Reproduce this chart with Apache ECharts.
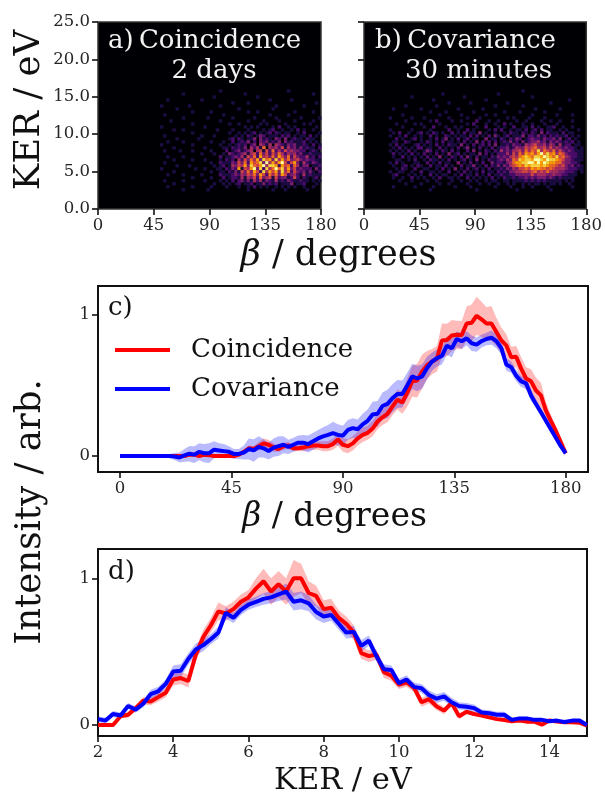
<!DOCTYPE html>
<html>
<head>
<meta charset="utf-8">
<style>html,body{margin:0;padding:0;background:#fff}#main{width:605px;height:794px}</style>
<script src="https://cdn.jsdelivr.net/npm/echarts@6/dist/echarts.min.js"></script>
</head>
<body>
<div id="main"></div>
<script>
// map cells: one digit per cell (0-9), top row is the highest KER
var coincMapRows = [
"0000000000000000000100000000000000000000010000000000",
"0000000100000000000000000001000000000000000000000100",
"0000000000000000010000000000000100000000000000000000",
"0010000000000100000000000000000000010000001000000000",
"0000000000000000000000010000100000000000000000000010",
"1000000001000000000100000000000000000100000000100000",
"0000010000000000000000000100000000001000000000000000",
"0000000000100000100000000000100100000000000100000100",
"0100000000000000000010000000000000010000010000000000",
"0000000100000001000000010000001000000100000001000001",
"0001000000000000000100000000100001000010000100000100",
"0000000000100000000000100100000010100000100000101000",
"1000000000000010000000000001010100001020010100000010",
"0000100100000000001000010000100001012001001020100100",
"0000000000100000000000100101012010120210110010200001",
"0100000000000100010000001010210132011102120101102010",
"0000010000001000000000120210113031210320301211021100",
"0010000100000000100010020121302032312130312111201010",
"1000000000100000000100101212023043140432132311210201",
"0000100000000010000011021213042416043425142313121102",
"0100001000100000100002012312340451526242534332201210",
"0000000000000100010010321234145263525364243423112111",
"0010000100000000000201123241536274536375362532241202",
"0000100000100010000102120425364738673847463453232211",
"0100000000000000100211132536275683947479525731421321",
"0000010001000000010120143547386579488727562641330112",
"1000000000010010001102132715479382846968473523222031",
"0000100000000000100110213153637528475738462532313102",
"0010000100000100000211123243546375264637523421412111",
"0000000000100000100020122141435263451523312520210120",
"0100000100000010000101020231314241321412132112110101",
"0000100000000000010010101201120113121201113011200010",
"0010000000100000100001000100102010100101010100100100",
"0000000100000001000000000000100000001000100000010000"
];
var covMapRows = [
"0000000000000000000000000000000000000000000100000000000000000000",
"0000000000000000010000000000000000010000000000000000000000000000",
"0000000100000000000000001000000000000000000000100000000000000000",
"0000000000000010000000000000000100000000000000000000000000100000",
"0000000000000000000100000010000000000010000000000000100000000000",
"0000010000000001000000000000000000100000000100000000000000000000",
"0100000000100000000000100000001000000000000000010000000100000000",
"0000000000000100001000000001000000000100001000000010000000000000",
"0000100000000000100000010000000100100000000000100000001000010000",
"1000000100010000000100000100010000000010100001000010000000000000",
"0000010000000102000010010000200010010000010010000100100100010000",
"0010000010100000100000000102000100100201000100100010001000000000",
"0000100000010020001001010000100200010100200110201001120010010000",
"1000000100000100000200100201000010202001011020120201100101000100",
"0102001001201021010020102011030100100102110210210302111020110000",
"1001020010100201002101011020201020310120111302213120212112010100",
"0020100120100102013010201201100301102102132012322132231301201000",
"0110021000102101020110102010302020201213120312334231323212120100",
"1020100012010102010211030102012020301121322143453342431412201100",
"0102010102201100201010201301020102012231243354564453534323221010",
"1010102010013201021020100203010210214232445364658465463532321110",
"0201010201020102010301201011030201022242536476757968674653222110",
"0100201010102010301021020310201102132324546787688798768564322110",
"0011001020010211010201012010301021123243658788799879887653321110",
"1020100011002010201100301020102003122134677889979798776643322100",
"0100120102100201102010020113010202131324567687888787665453231210",
"0010210020011001020103010201201020112132435565767665654443222110",
"1001100100200110100200102010102011021213344554564546444332221010",
"0120001010100201011001020110201020112112233333534443343322111000",
"0100100201010010200110100201010102010211212232323332321211110000",
"0001000100001001000010010010100101100110111121212121111101010000",
"0000010000100000100100000100010010010010100101011010110100100000",
"0100000010000010000001000010000000100001000100100001000000010000",
"0000000000000100000000000000100000000000010000000000100000000000"
];
var coincMapStart = 50;   // first beta column of the coincidence rows
var covMapStart = 20;     // first beta column of the covariance rows
var betaBin = 2.5;
var kerBin = 0.4;
var kerBottom = 2.4;

// panel c, every 2 degrees from 0 to 180
var betaCoinc = [0,0,0,0,0,0,0,0,0,0,0,0,0,0,0.01,0.01,0,0.01,0.005,0,0,0,0,0,0.01,0.03,0.055,0.05,0.07,0.09,0.08,0.06,0.05,0.07,0.075,0.055,0.055,0.06,0.07,0.075,0.075,0.07,0.07,0.085,0.118,0.08,0.07,0.09,0.125,0.15,0.165,0.195,0.245,0.275,0.3,0.35,0.4,0.38,0.45,0.53,0.535,0.6,0.645,0.67,0.69,0.82,0.823,0.855,0.86,0.858,0.94,0.945,0.995,0.97,0.94,0.94,0.88,0.82,0.785,0.7,0.705,0.62,0.55,0.53,0.465,0.43,0.323,0.25,0.18,0.1,0.02];
var betaCoincErr = [0,0,0,0,0,0,0,0,0,0,0,0,0,0.003,0.005,0.005,0.005,0.005,0.005,0.005,0.005,0.005,0.005,0.008,0.01,0.015,0.02,0.02,0.03,0.035,0.035,0.03,0.02,0.025,0.025,0.02,0.02,0.025,0.03,0.03,0.03,0.035,0.035,0.04,0.045,0.05,0.05,0.05,0.05,0.05,0.05,0.055,0.055,0.055,0.06,0.06,0.07,0.08,0.1,0.11,0.12,0.12,0.1,0.09,0.09,0.12,0.115,0.11,0.1,0.1,0.12,0.13,0.135,0.125,0.115,0.125,0.1,0.09,0.08,0.075,0.075,0.08,0.08,0.085,0.09,0.09,0.06,0.045,0.03,0.02,0.01];
var betaCov = [0,0,0,0,0,0,0,0,0,0,0,-0.003,-0.01,0.005,0.017,0.01,0.03,0.02,0.02,0.045,0.04,0.035,0.03,0.015,0.015,0.025,0.05,0.04,0.065,0.055,0.035,0.06,0.07,0.08,0.065,0.08,0.095,0.095,0.085,0.105,0.125,0.14,0.15,0.163,0.15,0.145,0.185,0.198,0.19,0.225,0.25,0.295,0.3,0.355,0.37,0.41,0.44,0.44,0.5,0.565,0.55,0.565,0.625,0.67,0.695,0.71,0.783,0.764,0.83,0.814,0.835,0.8,0.79,0.815,0.83,0.84,0.815,0.765,0.65,0.63,0.57,0.53,0.516,0.43,0.37,0.31,0.25,0.19,0.13,0.07,0.02];
var betaCovErr = [0,0,0,0,0,0,0,0,0,0.005,0.015,0.025,0.035,0.045,0.055,0.06,0.06,0.065,0.07,0.06,0.05,0.05,0.04,0.035,0.035,0.05,0.075,0.08,0.075,0.065,0.06,0.065,0.07,0.06,0.05,0.05,0.05,0.055,0.06,0.06,0.06,0.065,0.07,0.08,0.075,0.07,0.07,0.07,0.07,0.075,0.08,0.09,0.09,0.095,0.1,0.1,0.1,0.095,0.09,0.09,0.09,0.085,0.08,0.065,0.06,0.06,0.065,0.065,0.055,0.055,0.05,0.055,0.05,0.045,0.045,0.05,0.05,0.045,0.045,0.04,0.04,0.04,0.04,0.04,0.03,0.025,0.02,0.02,0.015,0.01,0.01];

// panel d, every 0.2 eV from 2 to 15
var kerCoinc = [0,0,0,0.06,0.07,0.115,0.165,0.16,0.19,0.22,0.31,0.32,0.3,0.48,0.6,0.68,0.775,0.76,0.79,0.84,0.87,0.93,0.98,0.91,0.96,0.91,1,1,0.9,0.88,0.79,0.8,0.73,0.69,0.63,0.49,0.47,0.48,0.36,0.336,0.275,0.29,0.255,0.155,0.177,0.127,0.098,0.15,0.06,0.09,0.075,0.064,0.052,0.04,0.034,0.025,0.03,0.023,0.023,0.002,0.03,0.023,0.018,0.018,0.016,-0.005];
var kerCoincErr = [0,0,0,0.01,0.02,0.02,0.025,0.025,0.03,0.03,0.04,0.04,0.045,0.045,0.05,0.05,0.06,0.05,0.05,0.05,0.05,0.07,0.085,0.09,0.09,0.09,0.125,0.1,0.08,0.07,0.06,0.06,0.05,0.05,0.05,0.04,0.04,0.035,0.04,0.035,0.03,0.03,0.03,0.03,0.03,0.025,0.025,0.02,0.02,0.015,0.012,0.012,0.01,0.01,0.008,0.008,0.008,0.008,0.008,0.008,0.008,0.006,0.006,0.006,0.006,0.006];
var kerCov = [0.04,0.03,0.075,0.065,0.13,0.105,0.145,0.21,0.23,0.28,0.365,0.37,0.45,0.515,0.545,0.585,0.63,0.765,0.73,0.785,0.82,0.84,0.86,0.87,0.89,0.91,0.84,0.85,0.83,0.77,0.74,0.75,0.69,0.63,0.635,0.54,0.575,0.47,0.38,0.375,0.285,0.31,0.26,0.25,0.205,0.18,0.195,0.155,0.13,0.125,0.115,0.085,0.08,0.07,0.07,0.035,0.045,0.045,0.035,0.035,0.025,0.03,0.02,0.03,0.03,0];
var kerCovErr = [0.02,0.02,0.02,0.02,0.02,0.02,0.025,0.03,0.03,0.03,0.04,0.045,0.04,0.04,0.04,0.035,0.04,0.04,0.035,0.035,0.035,0.035,0.04,0.04,0.045,0.055,0.06,0.06,0.055,0.05,0.045,0.04,0.04,0.04,0.04,0.04,0.035,0.035,0.035,0.03,0.03,0.03,0.03,0.03,0.03,0.03,0.03,0.03,0.025,0.025,0.025,0.02,0.02,0.02,0.02,0.015,0.012,0.012,0.012,0.012,0.01,0.01,0.01,0.01,0.01,0.01];

var mapBetaTicks = [0, 45, 90, 135, 180];
var mapKerTicks = [0, 5, 10, 15, 20, 25];
var profileBetaTicks = [0, 45, 90, 135, 180];
var profileKerTicks = [2, 4, 6, 8, 10, 12, 14];
var intensityTicks = [0, 1];

var serif = '"DejaVu Serif"';
var inferno = ['#000004', '#1b0c41', '#4a0c6b', '#781c6d', '#a52c60', '#cf4446', '#ed6925', '#fb9b06', '#f7d13d', '#fcffa4'];

function mapData(rows, start) {
    var out = [];
    rows.forEach(function (row, r) {
        var ker = kerBottom + (rows.length - 1 - r) * kerBin;
        for (var i = 0; i < row.length; i++) {
            var v = +row[i];
            if (v > 0) out.push([start + i * betaBin, ker, v]);
        }
    });
    return out;
}

function profile(xStep, xStart, ys) {
    return ys.map(function (y, i) { return [xStart + i * xStep, y]; });
}

function bandData(line, err) {
    return line.map(function (p, i) { return [p[0], p[1] - err[i], p[1] + err[i]]; });
}

function mapSeries(idx, rows, start) {
    return {
        type: 'custom',
        xAxisIndex: idx,
        yAxisIndex: idx,
        progressive: 0,
        dimensions: ['beta', 'ker', 'level'],
        encode: { x: 0, y: 1 },
        renderItem: function (params, api) {
            var p = api.coord([api.value(0), api.value(1) + kerBin]);
            var size = api.size([betaBin, kerBin]);
            return {
                type: 'rect',
                shape: { x: p[0], y: p[1], width: size[0] + 0.4, height: size[1] + 0.4 },
                style: { fill: api.visual('color') }
            };
        },
        data: mapData(rows, start)
    };
}

function bandSeries(idx, data, color) {
    return {
        type: 'custom',
        xAxisIndex: idx,
        yAxisIndex: idx,
        clip: true,
        silent: true,
        progressive: 0,
        encode: { x: 0, y: [1, 2] },
        renderItem: function (params, api) {
            // whole band is one polygon, drawn for the first item only
            if (params.dataIndex !== 0) return;
            var pts = [];
            data.forEach(function (d) { pts.push(api.coord([d[0], d[2]])); });
            data.slice().reverse().forEach(function (d) { pts.push(api.coord([d[0], d[1]])); });
            return {
                type: 'polygon',
                shape: { points: pts },
                style: { fill: color, opacity: 0.27 }
            };
        },
        data: data
    };
}

function lineSeries(idx, name, data, color) {
    return {
        name: name,
        type: 'line',
        xAxisIndex: idx,
        yAxisIndex: idx,
        showSymbol: false,
        symbol: 'none',
        lineStyle: { color: color, width: 4 },
        itemStyle: { color: color },
        data: data
    };
}

function xAxisOf(idx, min, max, ticks) {
    return {
        type: 'value',
        gridIndex: idx,
        min: min,
        max: max,
        splitLine: { show: false },
        axisLine: { show: false, onZero: false },
        axisTick: { length: 6, lineStyle: { color: '#111', width: 1.6 }, customValues: ticks },
        axisLabel: { fontFamily: serif, fontSize: 16.5, color: '#262626', margin: 8, customValues: ticks, hideOverlap: false }
    };
}

function yAxisOf(idx, min, max, ticks, fmt, hideLabels) {
    return {
        type: 'value',
        gridIndex: idx,
        min: min,
        max: max,
        splitLine: { show: false },
        axisLine: { show: false, onZero: false },
        axisTick: { length: 6, lineStyle: { color: '#111', width: 1.6 }, customValues: ticks },
        axisLabel: { show: !hideLabels, fontFamily: serif, fontSize: 16.5, color: '#262626', margin: 8, customValues: ticks, formatter: fmt }
    };
}

function label(text, x, y, size, align, rotation) {
    return {
        type: 'text',
        x: x,
        y: y,
        rotation: rotation || 0,
        z: 100,
        style: {
            text: text.t,
            fill: text.c,
            fontFamily: serif,
            fontSize: size,
            align: align || 'left',
            verticalAlign: 'middle',
            textAlign: align || 'left',
            textVerticalAlign: 'middle',
            rich: text.rich
        }
    };
}

function betaText(size) {
    return { t: '{i|\u03b2} / degrees', c: '#111', rich: { i: { fontFamily: serif, fontStyle: 'italic', fontSize: size, fill: '#111' } } };
}

var mapFmt = function (v) { return v.toFixed(1); };

var lineC1 = profile(2, 0, betaCoinc);
var lineC2 = profile(2, 0, betaCov);
var lineD1 = profile(0.2, 2, kerCoinc);
var lineD2 = profile(0.2, 2, kerCov);

var myChart = echarts.init(document.getElementById('main'), null, { renderer: 'canvas' });

var option = {
    animation: false,
    backgroundColor: '#fff',
    grid: [
        { left: 98, top: 22, width: 223, height: 187, show: true, backgroundColor: '#000004', borderColor: '#333', borderWidth: 1.5 },
        { left: 364, top: 22, width: 223, height: 187, show: true, backgroundColor: '#000004', borderColor: '#333', borderWidth: 1.5 },
        { left: 98, top: 286, width: 490, height: 186, show: true, borderColor: '#111', borderWidth: 2 },
        { left: 98, top: 549, width: 489, height: 187, show: true, borderColor: '#111', borderWidth: 2 }
    ],
    xAxis: [
        xAxisOf(0, 0, 180, mapBetaTicks),
        xAxisOf(1, 0, 180, mapBetaTicks),
        xAxisOf(2, -8.9, 189, profileBetaTicks),
        xAxisOf(3, 2, 15, profileKerTicks)
    ],
    yAxis: [
        yAxisOf(0, 0, 25, mapKerTicks, mapFmt),
        yAxisOf(1, 0, 25, mapKerTicks, mapFmt, true),
        yAxisOf(2, -0.113, 1.206, intensityTicks),
        yAxisOf(3, -0.075, 1.2, intensityTicks)
    ],
    visualMap: {
        show: false,
        seriesIndex: [0, 1],
        dimension: 2,
        min: 0,
        max: 9,
        inRange: { color: inferno }
    },
    legend: {
        data: [
            { name: 'Coincidence', icon: 'rect' },
            { name: 'Covariance', icon: 'rect' }
        ],
        orient: 'vertical',
        left: 110,
        top: 332,
        itemWidth: 55,
        itemHeight: 4,
        itemGap: 13,
        selectedMode: false,
        textStyle: { fontFamily: serif, fontSize: 26, color: '#111', padding: [0, 0, 0, 16] }
    },
    series: [
        mapSeries(0, coincMapRows, coincMapStart),
        mapSeries(1, covMapRows, covMapStart),
        bandSeries(2, bandData(lineC1, betaCoincErr), '#ff0000'),
        bandSeries(2, bandData(lineC2, betaCovErr), '#0000ff'),
        lineSeries(2, 'Coincidence', lineC1, '#ff0000'),
        lineSeries(2, 'Covariance', lineC2, '#0000ff'),
        bandSeries(3, bandData(lineD1, kerCoincErr), '#ff0000'),
        bandSeries(3, bandData(lineD2, kerCovErr), '#0000ff'),
        lineSeries(3, 'Coincidence', lineD1, '#ff0000'),
        lineSeries(3, 'Covariance', lineD2, '#0000ff')
    ],
    graphic: [
        label({ t: 'a)', c: '#f2f2f2' }, 108, 41, 26),
        label({ t: 'Coincidence', c: '#f2f2f2' }, 220, 41, 26, 'center'),
        label({ t: '2 days', c: '#f2f2f2' }, 214, 71, 26, 'center'),
        label({ t: 'b)', c: '#f2f2f2' }, 375, 41, 26),
        label({ t: 'Covariance', c: '#f2f2f2' }, 481.5, 41, 26, 'center'),
        label({ t: '30 minutes', c: '#f2f2f2' }, 478.5, 71, 26, 'center'),
        label({ t: 'c)', c: '#111' }, 108, 308, 26),
        label({ t: 'd)', c: '#111' }, 108, 572, 26),
        label(betaText(35), 338.5, 256, 35, 'center'),
        label(betaText(33), 334.5, 517, 33, 'center'),
        label({ t: 'KER / eV', c: '#111' }, 343, 781, 30.5, 'center'),
        label({ t: 'KER / eV', c: '#111' }, 30, 110, 35.5, 'center', Math.PI / 2),
        label({ t: 'Intensity / arb.', c: '#111' }, 31, 512, 35.5, 'center', Math.PI / 2)
    ]
};

myChart.setOption(option);
</script>
</body>
</html>
